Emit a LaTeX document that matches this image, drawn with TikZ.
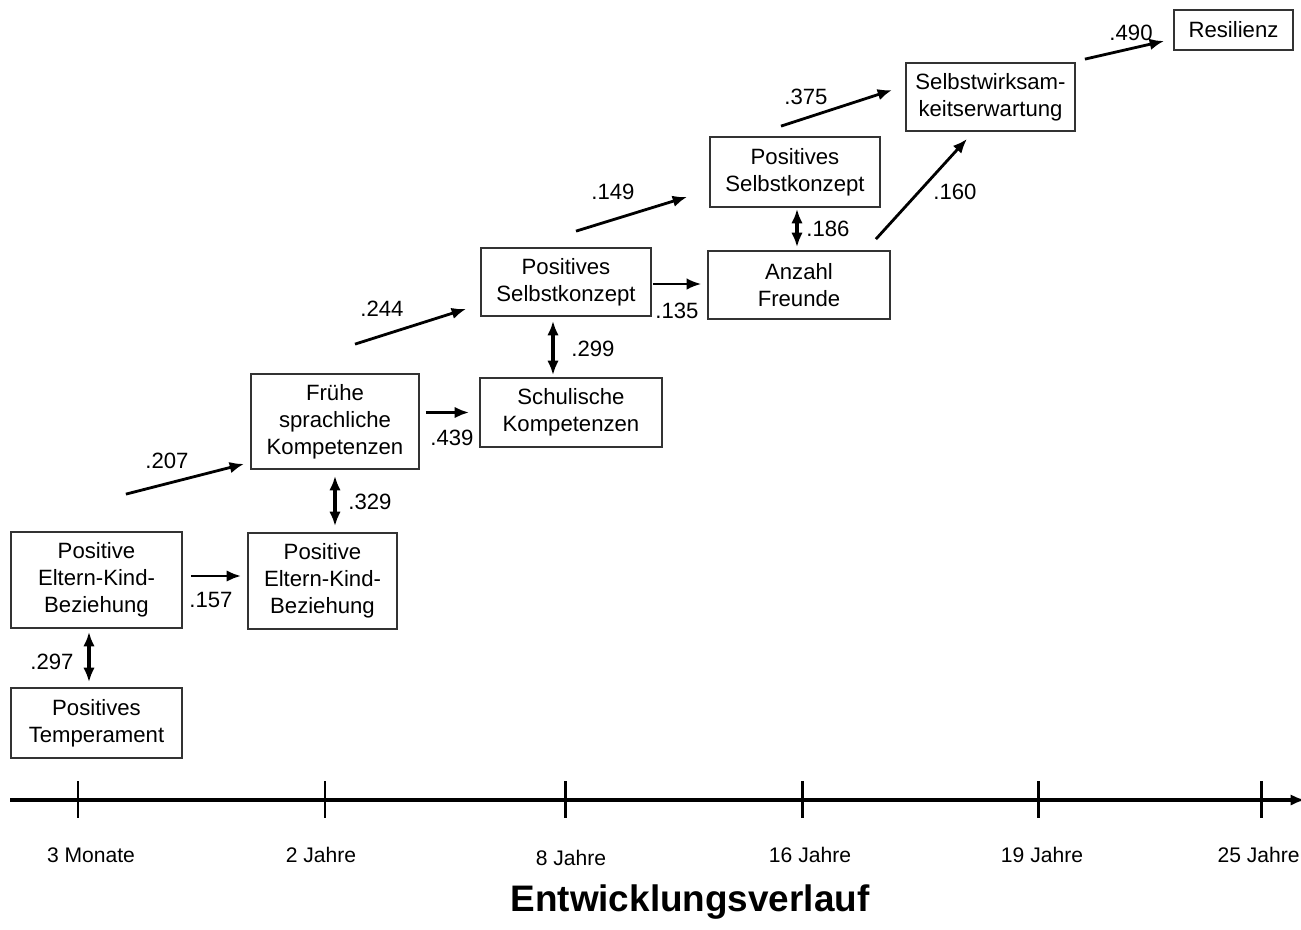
\documentclass[tikz,border=0pt]{standalone}
\usepackage{fontspec}
\setmainfont{Liberation Sans}
\usepackage{tikz}
\usetikzlibrary{arrows.meta}

\begin{document}
\begin{tikzpicture}[
    >={Latex[length=2.9mm,width=2.3mm]},
    stage/.style={
        rectangle,
        draw=black!80,
        line width=1pt,
        inner sep=2pt,
        font=\fontsize{12.6}{15.3}\selectfont,
        align=center
    },
    edge/.style={
        ->,
        line width=1.6pt
    },
    both/.style={
        <->,
        line width=1.8pt
    },
    coef/.style={
        font=\fontsize{12.6}{14}\selectfont
    },
    tick/.style={
        line width=1.7pt
    },
    age/.style={
        font=\fontsize{12}{14}\selectfont
    }
]
\useasboundingbox (0,0) rectangle (26.02,-18.58);

% Stages, left (early) to right (late)
\node[stage, minimum width=3.42cm, minimum height=1.92cm] (pekbA) at (1.93,-11.6) {Positive\\Eltern-Kind-\\Beziehung};
\node[stage, minimum width=3.42cm, minimum height=1.4cm] (temp) at (1.93,-14.46) {Positives\\Temperament};
\node[stage, minimum width=2.98cm, minimum height=1.92cm] (pekbB) at (6.45,-11.62) {Positive\\Eltern-Kind-\\Beziehung};
\node[stage, minimum width=3.36cm, minimum height=1.9cm] (sprache) at (6.7,-8.43) {Frühe\\sprachliche\\Kompetenzen};
\node[stage, minimum width=3.64cm, minimum height=1.38cm] (schule) at (11.42,-8.25) {Schulische\\Kompetenzen};
\node[stage, minimum width=3.4cm, minimum height=1.36cm] (selbstA) at (11.32,-5.64) {Positives\\Selbstkonzept};
\node[stage, minimum width=3.64cm, minimum height=1.36cm] (freunde) at (15.98,-5.7) {Anzahl\\Freunde};
\node[stage, minimum width=3.4cm, minimum height=1.4cm] (selbstB) at (15.9,-3.44) {Positives\\Selbstkonzept};
\node[stage, minimum width=3.38cm, minimum height=1.36cm] (swe) at (19.81,-1.94) {Selbstwirksam-\\keitserwartung};
\node[stage, minimum width=2.38cm, minimum height=0.8cm] (resilienz) at (24.67,-0.6) {Resilienz};

% Paths between neighbouring stages
\draw[edge, shorten <=0.16cm, shorten >=0.12cm] ([yshift=0.08cm]pekbA.east) -- ([yshift=0.08cm]pekbA.east -| pekbB.west);
\draw[both, shorten <=0.06cm, shorten >=0.1cm] ([xshift=-0.15cm]pekbA.south) -- ([xshift=-0.15cm]pekbA.south |- temp.north);
\draw[both, shorten <=0.12cm, shorten >=0.12cm] (sprache.south) -- (sprache.south |- pekbB.north);
\draw[edge, shorten <=0.12cm, shorten >=0.2cm] (sprache.east |- schule.west) -- (schule.west);
\draw[both, shorten <=0.08cm, shorten >=0.04cm] ([xshift=-0.26cm]selbstA.south) -- ([xshift=-0.26cm]selbstA.south |- schule.north);
\draw[edge, line width=1.2pt, shorten <=0.02cm, shorten >=0.12cm] ([yshift=-0.04cm]selbstA.east) -- ([yshift=-0.04cm]selbstA.east -| freunde.west);
\draw[both, shorten <=0.02cm, shorten >=0.06cm] ([xshift=0.04cm]selbstB.south) -- ([xshift=0.04cm]selbstB.south |- freunde.north);

% Diagonal paths up the development stairs
\draw[edge] ([shift={(-1.14,0.74)}]pekbA.north east) -- ([shift={(-0.12,0.12)}]sprache.south west);
\draw[edge] ([shift={(0.4,0.58)}]sprache.north) -- ([shift={(-0.28,0.16)}]selbstA.south west);
\draw[edge] ([shift={(0.2,0.32)}]selbstA.north) -- ([shift={(-0.44,0.22)}]selbstB.south west);
\draw[edge] ([shift={(-0.28,0.2)}]selbstB.north) -- ([shift={(-0.26,0.14)}]swe.west);
\draw[edge] ([shift={(-0.3,0.22)}]freunde.north east) -- ([shift={(-0.47,-0.14)}]swe.south);
\draw[edge] ([shift={(0.18,0.06)}]swe.north east) -- ([shift={(-0.18,-0.22)}]resilienz.west);

% Path coefficients
\node[coef] (c157) at (4.22,-12.0) {.157};
\node[coef] (c297) at (1.04,-13.24) {.297};
\node[coef] (c207) at (3.34,-9.22) {.207};
\node[coef] (c329) at (7.4,-10.04) {.329};
\node[coef] (c439) at (9.04,-8.76) {.439};
\node[coef] (c244) at (7.64,-6.18) {.244};
\node[coef] (c299) at (11.86,-6.98) {.299};
\node[coef] (c135) at (13.54,-6.22) {.135};
\node[coef] (c149) at (12.26,-3.84) {.149};
\node[coef] (c186) at (16.56,-4.58) {.186};
\node[coef] (c160) at (19.1,-3.84) {.160};
\node[coef] (c375) at (16.12,-1.94) {.375};
\node[coef] (c490) at (22.62,-0.66) {.490};

% Time axis
\coordinate (axstart) at (0.2,-16);
\coordinate (axend) at (26.1,-16);
\draw[->, line width=2.3pt] (axstart) -- (axend);
\foreach \x in {1.56, 6.5, 11.3, 16.04, 20.76, 25.22} {
    \draw[tick] (\x,-15.62) -- (\x,-16.36);
}
\node[age] (a1) at (1.82,-17.1) {3 Monate};
\node[age] (a2) at (6.42,-17.1) {2 Jahre};
\node[age] (a3) at (11.42,-17.16) {8 Jahre};
\node[age] (a4) at (16.2,-17.1) {16 Jahre};
\node[age] (a5) at (20.84,-17.1) {19 Jahre};
\node[age, anchor=east, inner xsep=0pt] (a6) at (26.0,-17.1) {25 Jahre};

\node[font=\fontsize{21}{24}\selectfont\bfseries] (verlauf) at (13.8,-18.05) {Entwicklungsverlauf};

\end{tikzpicture}
\end{document}
